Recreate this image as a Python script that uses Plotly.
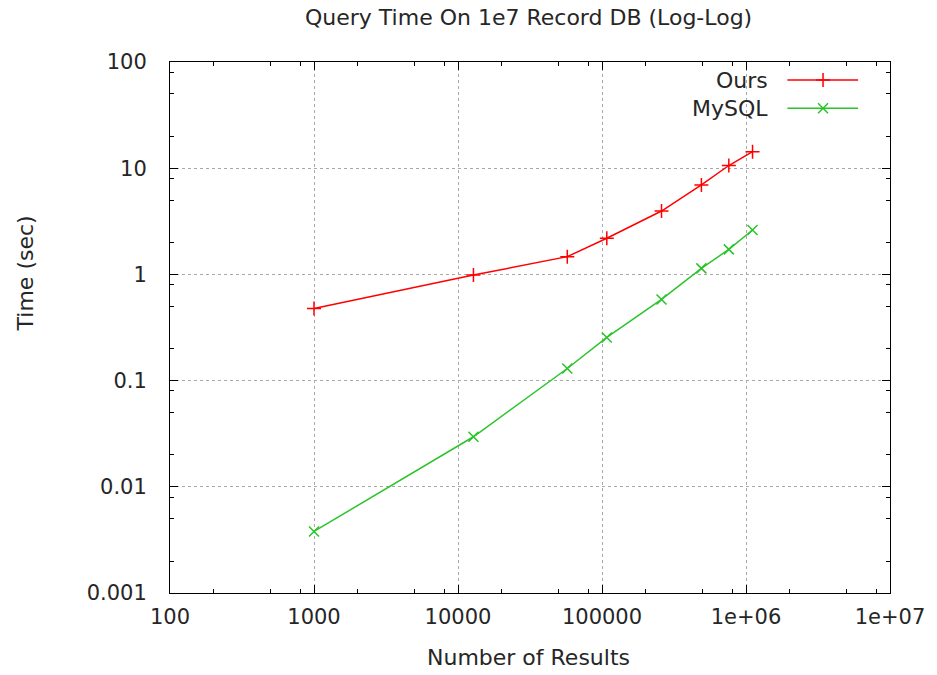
import plotly.graph_objects as go

# Query time vs. number of results, 1e7-record database
results = [1000, 12800, 57400, 108000, 259000, 490000, 760000, 1110000]
ours_sec = [0.478, 0.985, 1.47, 2.19, 3.95, 6.96, 10.6, 14.3]
mysql_sec = [0.0038, 0.0296, 0.130, 0.255, 0.581, 1.14, 1.72, 2.62]

series_names = ["Ours", "MySQL"]
series_colors = ["#ff0000", "#2ac42a"]
series_symbols = ["cross-thin", "x-thin"]

x_tickvals = [100, 1000, 10000, 100000, 1000000, 10000000]
x_ticktext = ["100", "1000", "10000", "100000", "1e+06", "1e+07"]
y_tickvals = [0.001, 0.01, 0.1, 1, 10, 100]
y_ticktext = ["0.001", "0.01", "0.1", "1", "10", "100"]
minor_mults = [2, 5, 8]

FONT = "DejaVu Sans"
TXT = "#262626"
LABEL_SIZE = 22
TICK_SIZE = 21

x_minor = [m * v for v in x_tickvals[:-1] for m in minor_mults]
y_minor = [m * v for v in y_tickvals[:-1] for m in minor_mults]

fig = go.Figure()
for ys, name, col, sym in zip([ours_sec, mysql_sec], series_names, series_colors, series_symbols):
    fig.add_trace(go.Scatter(
        x=results, y=ys, name=name, mode="lines+markers",
        line=dict(color=col, width=1.5),
        marker=dict(symbol=sym, size=10, line=dict(color=col, width=1.5)),
        showlegend=False,
    ))

# key samples drawn on an overlay axis spanning the plot area
key_x = 0.907
key_y = [0.966, 0.913]
for ky, name, col, sym in zip(key_y, series_names, series_colors, series_symbols):
    fig.add_trace(go.Scatter(
        x=[key_x], y=[ky], mode="markers", xaxis="x2", yaxis="y2",
        marker=dict(symbol=sym, size=10, line=dict(color=col, width=1.5)),
        showlegend=False, hoverinfo="skip",
    ))
    fig.add_shape(type="line", xref="paper", yref="paper",
                  x0=0.8575, x1=0.9557, y0=ky, y1=ky,
                  line=dict(color=col, width=1.5))
    fig.add_annotation(text=name, xref="paper", yref="paper", x=0.834, y=ky,
                       xanchor="right", yanchor="middle", showarrow=False,
                       font=dict(family=FONT, size=LABEL_SIZE, color=TXT))

axis_common = dict(
    type="log", showline=True, linecolor="black", linewidth=1, mirror="allticks",
    ticks="inside", ticklen=8, tickcolor="black", tickwidth=1,
    showgrid=True, gridcolor="#a8a8a8", griddash="dot", gridwidth=1,
    zeroline=False, tickfont=dict(family=FONT, size=TICK_SIZE, color=TXT),
)

fig.update_layout(
    width=937, height=675,
    margin=dict(l=170, r=44, t=62, b=82),
    paper_bgcolor="white", plot_bgcolor="white",
    xaxis=dict(range=[2, 7], tickvals=x_tickvals, ticktext=x_ticktext,
               ticklabelstandoff=5,
               minor=dict(tickvals=x_minor, ticks="inside", ticklen=4,
                          tickcolor="black", showgrid=False),
               **axis_common),
    yaxis=dict(range=[-3, 2], tickvals=y_tickvals, ticktext=y_ticktext,
               ticklabelstandoff=18,
               minor=dict(tickvals=y_minor, ticks="inside", ticklen=4,
                          tickcolor="black", showgrid=False),
               **axis_common),
    xaxis2=dict(overlaying="x", range=[0, 1], visible=False, fixedrange=True),
    yaxis2=dict(overlaying="y", range=[0, 1], visible=False, fixedrange=True),
    showlegend=False,
)

fig.add_annotation(text="Query Time On 1e7 Record DB (Log-Log)", xref="paper", yref="paper",
                   x=0.498, y=1.083, xanchor="center", yanchor="middle", showarrow=False,
                   font=dict(family=FONT, size=LABEL_SIZE, color=TXT))
fig.add_annotation(text="Number of Results", xref="paper", yref="paper",
                   x=0.498, y=-0.122, xanchor="center", yanchor="middle", showarrow=False,
                   font=dict(family=FONT, size=LABEL_SIZE, color=TXT))
fig.add_annotation(text="Time (sec)", xref="paper", yref="paper", textangle=-90,
                   x=-0.2006, y=0.601, xanchor="center", yanchor="middle", showarrow=False,
                   font=dict(family=FONT, size=LABEL_SIZE, color=TXT))

fig.write_html("out.html")
